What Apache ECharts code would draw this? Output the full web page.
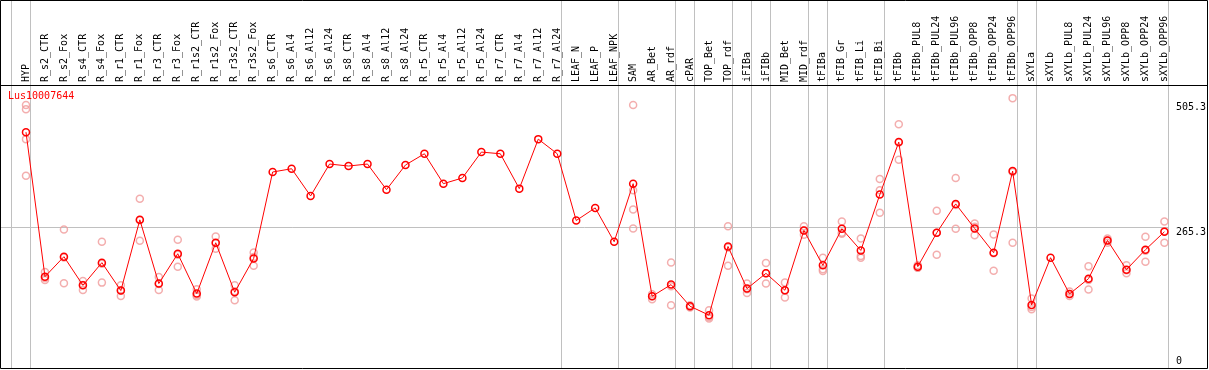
<!DOCTYPE html>
<html><head><meta charset="utf-8">
<script src="https://cdn.jsdelivr.net/npm/echarts@6/dist/echarts.min.js"></script>
<style>html,body{margin:0;padding:0;background:#fff}#c{width:1209px;height:370px}</style>
</head><body><div id="c"></div>
<script>
const geneTitle = 'Lus10007644';
const categories = ['HYP','R_s2_CTR','R_s2_Fox','R_s4_CTR','R_s4_Fox','R_r1_CTR','R_r1_Fox','R_r3_CTR','R_r3_Fox','R_r1s2_CTR','R_r1s2_Fox','R_r3s2_CTR','R_r3s2_Fox','R_s6_CTR','R_s6_Al4','R_s6_Al12','R_s6_Al24','R_s8_CTR','R_s8_Al4','R_s8_Al12','R_s8_Al24','R_r5_CTR','R_r5_Al4','R_r5_Al12','R_r5_Al24','R_r7_CTR','R_r7_Al4','R_r7_Al12','R_r7_Al24','LEAF_N','LEAF_P','LEAF_NPK','SAM','AR_Bet','AR_rdf','cPAR','TOP_Bet','TOP_rdf','iFIBa','iFIBb','MID_Bet','MID_rdf','tFIBa','tFIB_Gr','tFIB_Li','tFIB_Bi','tFIBb','tFIBb_PUL8','tFIBb_PUL24','tFIBb_PUL96','tFIBb_OPP8','tFIBb_OPP24','tFIBb_OPP96','sXYLa','sXYLb','sXYLb_PUL8','sXYLb_PUL24','sXYLb_PUL96','sXYLb_OPP8','sXYLb_OPP24','sXYLb_OPP96'];
const meanValues = [442.1,173.5,210.6,157.4,199.5,147.6,279.1,160.6,216.1,142.0,236.5,144.5,207.4,368.0,374.1,323.5,382.8,379.1,382.8,335.2,381.0,401.9,346.3,356.9,405.0,401.9,337.1,429.1,401.9,277.8,301.3,238.4,346.3,137.0,158.7,118.5,101.9,229.6,151.3,179.6,148.2,259.3,194.5,262.4,222.2,326.0,423.6,192.1,255.0,308.7,263.0,218.0,369.8,120.9,208.7,141.3,169.8,240.8,186.5,223.5,256.9];
const replicateValues = [
 [492.6,484.7,429.1,361.1],[182.1,170.9,167.2],[261.1,209.3,161.1],[165.4,158.0,148.7],[238.4,197.6,162.4],
 [157.4,147.6,137.6],[318.5,278.4,240.2],[172.8,159.8,148.7],[242.0,214.3,192.1],[150.0,139.5,136.5],
 [248.2,235.8,225.4],[157.4,146.3,129.6],[218.5,209.8,193.9],[],[],[],[],[],[],[],[],[],[],[],[],[],[],[],[],
 [],[],[],[492.6,333.9,298.2,263.0],[140.8,137.0,131.5],[200.0,155.6,120.4],[120.4,118.5,116.1],
 [111.1,98.7,95.7],[267.2,227.8,193.9],[160.6,150.0,143.2],[198.7,179.6,160.6],[162.4,147.6,134.6],
 [267.2,259.3,251.3],[208.7,187.1,183.9],[275.9,255.0,253.2],[244.5,211.7,208.7],[355.0,333.9,292.1],
 [456.9,422.8,390.8],[194.5,190.2,190.2],[295.8,255.0,214.3],[356.9,306.9,262.4],[272.2,266.1,250.6],
 [251.9,217.2,184.6],[505.3,368.0,236.5],[132.8,117.2,113.0],[],[145.8,141.3,137.6],[192.6,167.2,149.5],
 [244.5,240.8,236.5],[194.5,185.2,179.6],[247.6,221.7,201.3],[275.9,258.0,236.5]
];
const yTickValues = [0, 265.3, 505.3];
const groupBreaksAfter = [-1,0,28,31,34,35,37,38,39,41,42,45,52,53,60];

const scatterData = [];
replicateValues.forEach((arr, i) => arr.forEach(v => scatterData.push([i, v])));

const chart = echarts.init(document.getElementById('c'), null, {renderer: 'canvas'});
const mono = 'DejaVu Sans Mono';
chart.setOption({
  animation: false,
  title: {text: geneTitle, left: 8, top: 91, padding: 0,
    textStyle: {color: '#ff0000', fontFamily: mono, fontSize: 10, fontWeight: 'normal'}},
  grid: {left: 16.5, right: 32.9, top: 85, bottom: -1, containLabel: false},
  xAxis: {type: 'category', data: categories, position: 'top', boundaryGap: true,
    axisLine: {show: false}, axisTick: {show: false}, splitLine: {show: false},
    axisLabel: {rotate: 90, interval: 0, margin: 3, color: '#000', fontFamily: mono, fontSize: 10}},
  yAxis: {type: 'value', min: 0, max: 529.7, position: 'right',
    axisLine: {show: false}, axisTick: {show: false}, splitLine: {show: false},
    axisLabel: {customValues: yTickValues, margin: 2, color: '#000', fontFamily: mono, fontSize: 10,
      formatter: v => v === 0 ? '{b|0}' : (v > 400 ? '{t|' + v + '}' : '{m|' + v + '}'),
      rich: {
        t: {fontFamily: mono, fontSize: 10, color: '#000', padding: [18, 0, 0, 0]},
        m: {fontFamily: mono, fontSize: 10, color: '#000', padding: [10, 0, 0, 0]},
        b: {fontFamily: mono, fontSize: 10, color: '#000', padding: [0, 0, 18, 0]}
      }}},
  graphic: [
    {type: 'rect', silent: true, z: 100, shape: {x: 0.5, y: 0.5, width: 1207, height: 368},
      style: {fill: 'none', stroke: '#000', lineWidth: 1}},
    {type: 'line', silent: true, z: 100, shape: {x1: 0, y1: 85.5, x2: 1208, y2: 85.5},
      style: {stroke: '#000', lineWidth: 1}}
  ],
  series: [
    {type: 'custom', silent: true, clip: false, z: 0, data: [[0, 0]],
      renderItem: (params, api) => {
        const bw = api.size([1, 0])[0];
        const x0 = api.coord([0, 0])[0];
        const kids = [];
        groupBreaksAfter.forEach(i => {
          const x = Math.round(x0 + i * bw + 4) + 0.5;
          kids.push({type: 'line', shape: {x1: x, y1: 0, x2: x, y2: 369},
            style: {stroke: '#c0c0c0', lineWidth: 1}});
        });
        const yy = Math.round(api.coord([0, 265.3])[1]) + 0.5;
        const xEnd = Math.round(x0 + 60 * bw + 4) + 0.5;
        kids.push({type: 'line', shape: {x1: 0, y1: yy, x2: xEnd, y2: yy},
          style: {stroke: '#c0c0c0', lineWidth: 1}});
        return {type: 'group', children: kids};
      }},
    {type: 'scatter', data: scatterData, symbol: 'circle', symbolSize: 7, z: 2,
      itemStyle: {color: 'rgba(0,0,0,0)', borderColor: '#f09a9a', borderWidth: 1.5}},
    {type: 'line', data: meanValues, symbol: 'circle', symbolSize: 7, showAllSymbol: true, z: 3,
      lineStyle: {color: '#ff0000', width: 1},
      itemStyle: {color: 'rgba(0,0,0,0)', borderColor: '#ff0000', borderWidth: 1.5}}
  ]
});
</script></body></html>
